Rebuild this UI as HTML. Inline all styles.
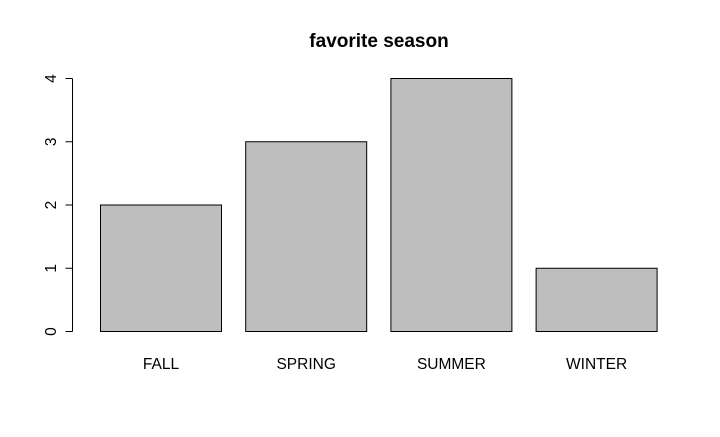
<!DOCTYPE html>
<html><head><meta charset="utf-8"><style>
html,body{margin:0;padding:0;background:#fff;}
text{font-family:"Liberation Sans",Arial,sans-serif;}
</style></head><body>
<svg id="chart" width="720" height="432" viewBox="0 0 720 432" xmlns="http://www.w3.org/2000/svg">
<rect width="720" height="432" fill="#fff"/>
<text x="379" y="47" text-anchor="middle" font-size="19" font-weight="bold">favorite season</text>
<g id="bars"></g>
<g id="yaxis"></g>
<g id="xlabels"></g>
</svg>
<script>
const categories = ["FALL","SPRING","SUMMER","WINTER"];
const values = [2,3,4,1];
const yTicks = [0,1,2,3,4];
const NS="http://www.w3.org/2000/svg";
const y0=331, yPerUnit=63.25;
function yScale(v){return y0 - v*yPerUnit;}
const barStart=100.5, barStep=145.2, barW=121;
function xScale(i){return barStart + i*barStep;}
const bars=document.getElementById('bars');
categories.forEach((c,i)=>{
  const r=document.createElementNS(NS,'rect');
  
  
  r.setAttribute('x',xScale(i));
  r.setAttribute('y',yScale(values[i])+0.5);
  r.setAttribute('width',barW);
  r.setAttribute('height',y0-yScale(values[i]));
  r.setAttribute('fill','#bebebe');
  r.setAttribute('stroke','#000');
  r.setAttribute('stroke-width','1');
  bars.appendChild(r);
  const t=document.createElementNS(NS,'text');
  
  
  t.setAttribute('x',xScale(i)+barW/2);
  t.setAttribute('y',369);
  t.setAttribute('text-anchor','middle');
  t.setAttribute('font-size','15.5');
  t.textContent=c;
  document.getElementById('xlabels').appendChild(t);
});
const ya=document.getElementById('yaxis');
const ax=document.createElementNS(NS,'line');


ax.setAttribute('x1',72.5);ax.setAttribute('x2',72.5);
ax.setAttribute('y1',yScale(yTicks[yTicks.length-1])+0.5);ax.setAttribute('y2',yScale(yTicks[0])+0.5);
ax.setAttribute('stroke','#000');
ya.appendChild(ax);
yTicks.forEach(v=>{
  const y=yScale(v)+0.5;
  const l=document.createElementNS(NS,'line');
  
  
  l.setAttribute('x1',65.5);l.setAttribute('x2',72.5);
  l.setAttribute('y1',y);l.setAttribute('y2',y);
  l.setAttribute('stroke','#000');
  ya.appendChild(l);
  const t=document.createElementNS(NS,'text');
  
  
  t.setAttribute('transform','translate(56,'+y+') rotate(-90)');
  t.setAttribute('text-anchor','middle');
  t.setAttribute('font-size','15.5');
  t.textContent=v;
  ya.appendChild(t);
});
</script>
</body></html>
